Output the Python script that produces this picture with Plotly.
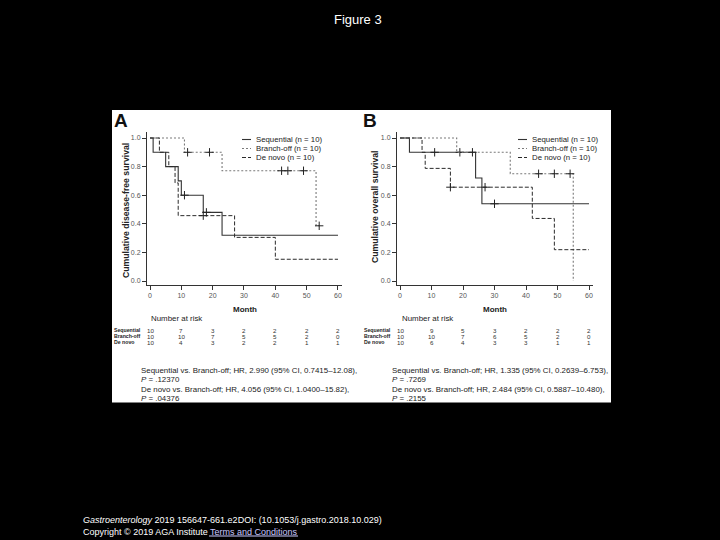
import plotly.graph_objects as go

W, H = 720, 540
FONT = "Liberation Sans, Arial, sans-serif"

# ---------------- data ----------------
month_ticks = [0, 10, 20, 30, 40, 50, 60]
surv_ticks = [0.0, 0.2, 0.4, 0.6, 0.8, 1.0]
group_names = ["Sequential", "Branch-off", "De novo"]
group_n = [10, 10, 10]

# Panel A: disease-free survival (time of each step, survival after step)
dfs_seq_time = [0, 1, 5, 9, 10, 17, 23, 60]
dfs_seq_surv = [1.0, 0.9, 0.8, 0.7, 0.6, 0.48, 0.32, 0.32]
dfs_seq_cens = [11, 18]
dfs_bra_time = [0, 11, 23, 53, 54]
dfs_bra_surv = [1.0, 0.9, 0.771, 0.386, 0.386]
dfs_bra_cens = [12, 19, 42, 44, 49, 54]
dfs_dnv_time = [0, 3, 6, 8, 9, 27, 40, 60]
dfs_dnv_surv = [1.0, 0.9, 0.8, 0.686, 0.457, 0.305, 0.152, 0.152]
dfs_dnv_cens = [17]

# Panel B: overall survival
os_seq_time = [0, 3, 24, 26, 60]
os_seq_surv = [1.0, 0.9, 0.72, 0.54, 0.54]
os_seq_cens = [11, 19, 30]
os_bra_time = [0, 18, 35, 55]
os_bra_surv = [1.0, 0.9, 0.75, 0.0]
os_bra_cens = [23, 44, 49, 54]
os_dnv_time = [0, 7, 8, 16, 42, 49, 60]
os_dnv_surv = [1.0, 0.9, 0.7875, 0.656, 0.4375, 0.219, 0.219]
os_dnv_cens = [16, 27]

# Numbers at risk
dfs_risk_seq = [10, 7, 3, 2, 2, 2, 2]
dfs_risk_bra = [10, 10, 7, 5, 5, 2, 0]
dfs_risk_dnv = [10, 4, 3, 2, 2, 1, 1]
os_risk_seq = [10, 9, 5, 3, 2, 2, 2]
os_risk_bra = [10, 10, 7, 6, 5, 2, 0]
os_risk_dnv = [10, 6, 4, 3, 3, 1, 1]

dfs_hr_lines = [
    "Sequential vs. Branch-off; HR, 2.990 (95% CI, 0.7415\u201312.08),",
    "<i>P</i> = .12370",
    "De novo vs. Branch-off; HR, 4.056 (95% CI, 1.0400\u201315.82),",
    "<i>P</i> = .04376",
]
os_hr_lines = [
    "Sequential vs. Branch-off; HR, 1.335 (95% CI, 0.2639\u20136.753),",
    "<i>P</i> = .7269",
    "De novo vs. Branch-off; HR, 2.484 (95% CI, 0.5887\u201310.480),",
    "<i>P</i> = .2155",
]

# ---------------- styles ----------------
styles = [
    dict(color="#333333", width=1.1, dash="solid"),
    dict(color="#7a7a7a", width=1.1, dash="2px,2px"),
    dict(color="#2a2a2a", width=1.0, dash="4px,2px"),
]


def px(x):
    return x / W


def py(y):
    return 1 - y / H


def step_value(times, survs, t):
    v = survs[0]
    for ti, si in zip(times, survs):
        if ti <= t:
            v = si
    return v


fig = go.Figure()

panels = [
    dict(xa="x", ya="y",
         curves=[(dfs_seq_time, dfs_seq_surv, dfs_seq_cens),
                 (dfs_bra_time, dfs_bra_surv, dfs_bra_cens),
                 (dfs_dnv_time, dfs_dnv_surv, dfs_dnv_cens)],
         risk=[dfs_risk_seq, dfs_risk_bra, dfs_risk_dnv],
         hr=dfs_hr_lines, letter="A",
         ytitle="Cumulative disease-free survival",
         letter_x=121, ytitle_x=126, ytitle_y=210,
         leg_x=242, rowlab_x=112, nar_x=149, hr_x=139, month_x=245),
    dict(xa="x2", ya="y2",
         curves=[(os_seq_time, os_seq_surv, os_seq_cens),
                 (os_bra_time, os_bra_surv, os_bra_cens),
                 (os_dnv_time, os_dnv_surv, os_dnv_cens)],
         risk=[os_risk_seq, os_risk_bra, os_risk_dnv],
         hr=os_hr_lines, letter="B",
         ytitle="Cumulative overall survival",
         letter_x=370, ytitle_x=375, ytitle_y=207,
         leg_x=518, rowlab_x=362, nar_x=400, hr_x=390, month_x=495),
]

annotations = []
shapes = [
    dict(type="rect", xref="paper", yref="paper",
         x0=px(112), x1=px(611), y0=py(402.5), y1=py(110),
         fillcolor="white", line=dict(width=0), layer="below"),
]

for p in panels:
    for gi, (t, s, c) in enumerate(p["curves"]):
        st = styles[gi]
        fig.add_trace(go.Scatter(
            x=t, y=s, mode="lines", line_shape="hv",
            line=dict(color=st["color"], width=st["width"], dash=st["dash"]),
            xaxis=p["xa"], yaxis=p["ya"], showlegend=False, hoverinfo="skip"))
        fig.add_trace(go.Scatter(
            x=c, y=[step_value(t, s, ci) for ci in c], mode="markers",
            marker=dict(symbol="cross-thin", size=6,
                        line=dict(color="#222222", width=1)),
            xaxis=p["xa"], yaxis=p["ya"], showlegend=False, hoverinfo="skip"))

    # panel letter
    annotations.append(dict(text="<b>%s</b>" % p["letter"], xref="paper", yref="paper",
                            x=px(p["letter_x"]), y=py(120), xanchor="center", yanchor="middle",
                            showarrow=False, font=dict(size=19, color="#111", family=FONT)))
    # y title
    annotations.append(dict(text="<b>%s</b>" % p["ytitle"], xref="paper", yref="paper",
                            x=px(p["ytitle_x"]), y=py(p["ytitle_y"]), textangle=-90,
                            xanchor="center", yanchor="middle", showarrow=False,
                            font=dict(size=8.7, color="#222", family=FONT)))
    # x title
    annotations.append(dict(text="<b>Month</b>", xref="paper", yref="paper",
                            x=px(p["month_x"]), y=py(309.5), xanchor="center", yanchor="middle",
                            showarrow=False, font=dict(size=8, color="#222", family=FONT)))
    # legend
    for gi, name in enumerate(group_names):
        yy = 139.5 + gi * 9
        st = styles[gi]
        shapes.append(dict(type="line", xref="paper", yref="paper",
                           x0=px(p["leg_x"]), x1=px(p["leg_x"] + 9), y0=py(yy), y1=py(yy),
                           line=dict(color=st["color"], width=st["width"], dash=st["dash"])))
        annotations.append(dict(text="%s (n = %d)" % (name, group_n[gi]), xref="paper", yref="paper",
                                x=px(p["leg_x"] + 12), y=py(yy), xanchor="left", yanchor="middle",
                                showarrow=False, font=dict(size=7.8, color="#222", family=FONT)))
    # number at risk
    annotations.append(dict(text="Number at risk", xref="paper", yref="paper",
                            x=px(p["nar_x"]), y=py(318.5), xanchor="left", yanchor="middle",
                            showarrow=False, font=dict(size=7.9, color="#222", family=FONT)))
    for gi, name in enumerate(group_names):
        yy = 330 + gi * 6
        annotations.append(dict(text="<b>%s</b>" % name, xref="paper", yref="paper",
                                x=px(p["rowlab_x"]), y=py(yy), xanchor="left", yanchor="middle",
                                showarrow=False, font=dict(size=5.2, color="#222", family=FONT)))
        for mt, nv in zip(month_ticks, p["risk"][gi]):
            annotations.append(dict(text=str(nv), xref=p["xa"], yref="paper",
                                    x=mt, y=py(yy), xanchor="center", yanchor="middle",
                                    showarrow=False, font=dict(size=6.2, color="#333", family=FONT)))
    # HR text
    for li, line in enumerate(p["hr"]):
        annotations.append(dict(text=line, xref="paper", yref="paper",
                                x=px(p["hr_x"]), y=py(370 + li * 9.6), xanchor="left", yanchor="middle",
                                showarrow=False, font=dict(size=7.9, color="#222", family=FONT)))

# figure title and footer
annotations.append(dict(text="Figure 3", xref="paper", yref="paper", x=px(358), y=py(19),
                        xanchor="center", yanchor="middle", showarrow=False,
                        font=dict(size=13, color="white", family=FONT)))
annotations.append(dict(text="<i>Gastroenterology</i> 2019 156647-661.e2DOI: (10.1053/j.gastro.2018.10.029)",
                        xref="paper", yref="paper", x=px(81), y=py(520), xanchor="left", yanchor="middle",
                        showarrow=False, font=dict(size=9, color="white", family=FONT)))
annotations.append(dict(text="Copyright \u00a9 2019 AGA Institute"
                             "<span style=\"color:#c8c8ff\"> Terms and Conditions</span>",
                        xref="paper", yref="paper", x=px(81), y=py(531.5), xanchor="left", yanchor="middle",
                        showarrow=False, font=dict(size=9, color="white", family=FONT)))
shapes.append(dict(type="line", xref="paper", yref="paper", x0=px(209), x1=px(298),
                   y0=py(536), y1=py(536), line=dict(color="#c8c8ff", width=1)))

axis_common = dict(showline=True, linecolor="#333", linewidth=1, ticks="outside", ticklen=4,
                   tickcolor="#333", tickwidth=1, showgrid=False, zeroline=False,
                   tickfont=dict(size=7, color="#555", family=FONT))

y_dom = [py(285), py(132)]
fig.update_layout(
    width=W, height=H, autosize=False,
    margin=dict(l=0, r=0, t=0, b=0, pad=0),
    paper_bgcolor="black", plot_bgcolor="white",
    showlegend=False,
    xaxis=dict(domain=[px(147), px(342)], range=[-0.957, 61.28], tickvals=month_ticks,
               anchor="y", **axis_common),
    yaxis=dict(domain=y_dom, range=[-0.028, 1.042], tickvals=surv_ticks, tickformat=".1f",
               anchor="x", **axis_common),
    xaxis2=dict(domain=[px(397), px(593)], range=[-0.952, 61.27], tickvals=month_ticks,
                anchor="y2", **axis_common),
    yaxis2=dict(domain=y_dom, range=[-0.028, 1.042], tickvals=surv_ticks, tickformat=".1f",
                anchor="x2", **axis_common),
    annotations=annotations,
    shapes=shapes,
)

fig.write_html(
    "out.html",
    config={"displayModeBar": False},
    post_script="document.body.style.margin='0';document.body.style.padding='0';"
                "document.body.style.overflow='hidden';document.body.style.background='black';",
)
